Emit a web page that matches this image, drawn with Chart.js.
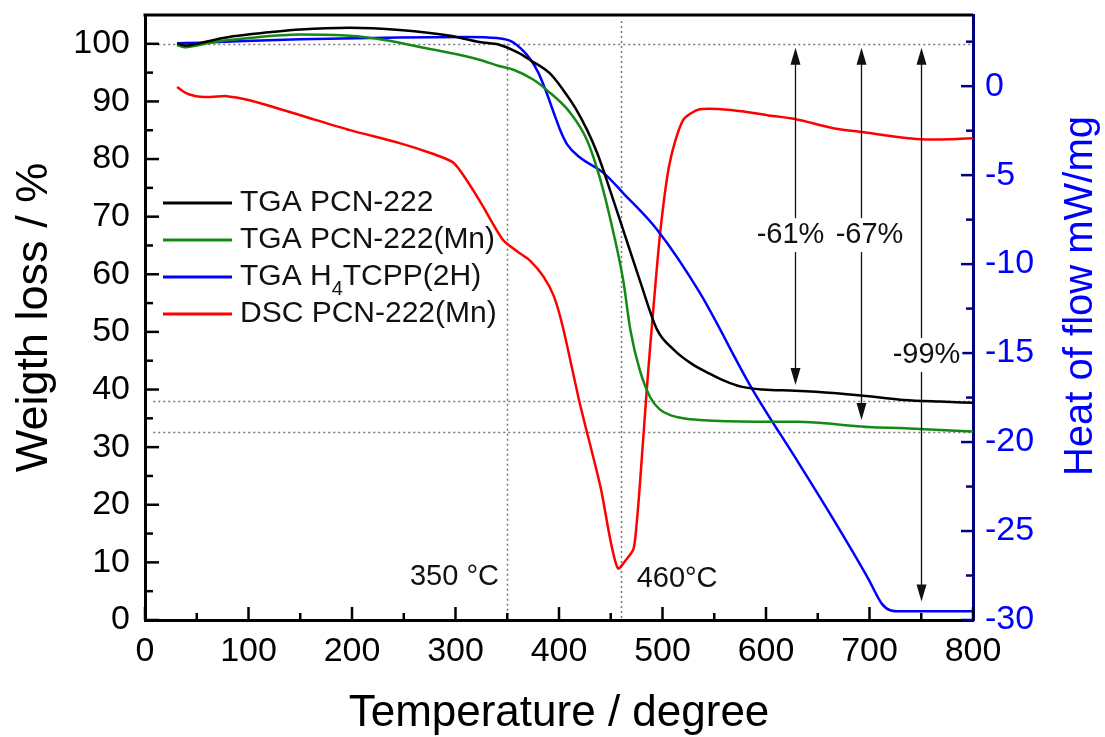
<!DOCTYPE html>
<html>
<head>
<meta charset="utf-8">
<title>TGA / DSC</title>
<script src="https://cdn.jsdelivr.net/npm/chart.js@4/dist/chart.umd.min.js"></script>
<style>
  html, body { margin: 0; padding: 0; background: #fff; }
  #wrap { width: 1105px; height: 737px; }
</style>
</head>
<body>
<div id="wrap"><canvas id="tgaChart" width="1105" height="737"></canvas></div>
<script>
// TGA curves (weight %, left axis) and DSC curve (mW/mg, right axis)
const pcnTemp = [31, 38, 45, 60, 85, 120, 150, 198, 246, 295, 323, 343, 360, 372, 391, 404, 416, 427, 437, 446, 462, 478, 495, 511, 528, 545, 560, 576, 597, 628, 665, 706, 733, 768, 800];
const pcnWeight = [100.1, 99.7, 99.8, 100.4, 101.3, 102.0, 102.5, 102.8, 102.4, 101.4, 100.3, 99.8, 98.5, 97.2, 94.9, 92.0, 88.8, 85.1, 81.0, 76.4, 67.7, 59.0, 50.3, 46.9, 44.5, 42.8, 41.5, 40.5, 40.0, 39.8, 39.4, 38.7, 38.2, 37.9, 37.7];

const mnTemp = [31, 36, 40, 50, 63, 101, 150, 198, 230, 278, 311, 324, 343, 356, 375, 388, 411, 427, 440, 452, 462, 469, 478, 488, 497, 507, 520, 536, 590, 631, 672, 699, 734, 800];
const mnWeight = [99.8, 99.5, 99.4, 99.7, 100.2, 101.0, 101.6, 101.4, 100.7, 99.0, 97.8, 97.2, 96.1, 95.5, 93.8, 92.0, 88.0, 83.3, 76.4, 67.7, 59.0, 50.3, 43.4, 38.7, 36.6, 35.6, 35.0, 34.7, 34.4, 34.4, 33.9, 33.5, 33.3, 32.7];

const ligandTemp = [31, 53, 150, 246, 311, 340, 353, 363, 372, 380, 388, 395, 401, 408, 420, 443, 462, 495, 536, 586, 631, 665, 699, 712, 720, 730, 800];
const ligandWeight = [100.1, 100.2, 100.8, 101.1, 101.2, 101.0, 100.5, 99.2, 97.4, 95.0, 91.5, 88.0, 85.1, 82.5, 80.3, 77.6, 74.1, 67.7, 56.8, 40.3, 27.4, 17.5, 7.1, 2.8, 1.7, 1.5, 1.5];

const dscTemp = [31, 37, 43, 53, 65, 79, 101, 150, 198, 246, 278, 298, 311, 325, 346, 360, 372, 385, 395, 404, 420, 440, 450, 457, 465, 472, 475, 478, 485, 490, 498, 507, 520, 536, 568, 601, 628, 665, 693, 729, 749, 778, 800];
const dscFlow = [-0.05, -0.3, -0.47, -0.6, -0.6, -0.56, -0.79, -1.63, -2.47, -3.2, -3.8, -4.3, -5.3, -6.6, -8.65, -9.3, -9.8, -10.7, -11.8, -13.6, -17.8, -22.5, -25.6, -27.1, -26.6, -26.0, -24.6, -22.5, -16.9, -13.3, -8.1, -4.3, -1.9, -1.3, -1.35, -1.63, -1.85, -2.36, -2.58, -2.87, -2.98, -2.98, -2.92];

const tempTicks = [0, 100, 200, 300, 400, 500, 600, 700, 800];
const weightTicks = [0, 10, 20, 30, 40, 50, 60, 70, 80, 90, 100];
const flowTicks = [0, -5, -10, -15, -20, -25, -30];

// dotted guides and weight-loss arrows
const guideWeights = [100, 38.0, 32.6];
const guideTemps = [350, 460];
const lossTemps = [628, 692, 750];
const lossEnds = [40.8, 34.7, 3.2];
const lossLabels = ['-61%', '-67%', '-99%'];

const FONT = 'Arial, "Liberation Sans", sans-serif';

function pairs(xs, ys) {
  return xs.map((x, i) => ({ x: x, y: ys[i] }));
}

// label text with unicode subscript digits drawn as small lowered numbers
function richText(ctx, text, x, y, size) {
  let cx = x;
  text.split(/([\u2080-\u2089]+)/).forEach(part => {
    if (!part) return;
    if (/[\u2080-\u2089]/.test(part)) {
      const digits = part.replace(/[\u2080-\u2089]/g, c => String.fromCharCode(c.charCodeAt(0) - 0x2080 + 48));
      ctx.font = Math.round(size * 0.65) + 'px ' + FONT;
      ctx.fillText(digits, cx, y + size * 0.4);
      cx += ctx.measureText(digits).width;
    } else {
      ctx.font = size + 'px ' + FONT;
      ctx.fillText(part, cx, y);
      cx += ctx.measureText(part).width;
    }
  });
}

function arrowHead(ctx, x, y, dir) {
  ctx.beginPath();
  ctx.moveTo(x, y);
  ctx.lineTo(x - 5, y + dir * 17);
  ctx.lineTo(x + 5, y + dir * 17);
  ctx.closePath();
  ctx.fill();
}

const guides = {
  id: 'guides',
  beforeDatasetsDraw(chart) {
    const { ctx, chartArea, scales } = chart;
    const x = scales.x, y = scales.y;
    ctx.save();
    ctx.strokeStyle = '#777';
    ctx.lineWidth = 1.5;
    ctx.setLineDash([2, 3]);
    guideWeights.forEach(w => {
      const py = Math.round(y.getPixelForValue(w)) + 0.5;
      ctx.beginPath();
      ctx.moveTo(x.getPixelForValue(8), py);
      ctx.lineTo(chartArea.right, py);
      ctx.stroke();
    });
    guideTemps.forEach((t, i) => {
      const px = Math.round(x.getPixelForValue(t)) + 0.5;
      ctx.beginPath();
      ctx.moveTo(px, i === 0 ? y.getPixelForValue(100) : chartArea.top + 6);
      ctx.lineTo(px, chartArea.bottom);
      ctx.stroke();
    });
    ctx.restore();
  },
  afterDraw(chart) {
    const { ctx, chartArea, scales } = chart;
    const x = scales.x, y = scales.y, y2 = scales.y2;
    ctx.save();

    // frame top
    ctx.strokeStyle = '#000';
    ctx.lineWidth = 3;
    ctx.beginPath();
    ctx.moveTo(chartArea.left - 1.5, chartArea.top);
    ctx.lineTo(chartArea.right, chartArea.top);
    ctx.stroke();

    // inward tick marks, major and minor
    ctx.lineWidth = 2.5;
    for (let t = 0; t <= 800; t += 50) {
      const px = x.getPixelForValue(t);
      ctx.beginPath();
      ctx.moveTo(px, chartArea.bottom);
      ctx.lineTo(px, chartArea.bottom - (t % 100 === 0 ? 13 : 7));
      ctx.stroke();
    }
    for (let w = 0; w <= 100; w += 5) {
      const py = y.getPixelForValue(w);
      ctx.beginPath();
      ctx.moveTo(chartArea.left, py);
      ctx.lineTo(chartArea.left + (w % 10 === 0 ? 14 : 8), py);
      ctx.stroke();
    }
    ctx.strokeStyle = '#000080';
    for (let f = 2.5; f >= -30; f -= 2.5) {
      const py = y2.getPixelForValue(f);
      ctx.beginPath();
      ctx.moveTo(chartArea.right, py);
      ctx.lineTo(chartArea.right - (f % 5 === 0 ? 12 : 7), py);
      ctx.stroke();
    }

    // weight-loss arrows with their labels
    const labelShift = [-5, 8, 5];
    const labelAt = [66.8, 66.8, 46];
    ctx.strokeStyle = '#111';
    ctx.fillStyle = '#111';
    ctx.lineWidth = 1.3;
    ctx.font = '29px ' + FONT;
    ctx.textAlign = 'center';
    ctx.textBaseline = 'middle';
    lossTemps.forEach((t, i) => {
      const px = Math.round(x.getPixelForValue(t)) + 0.5;
      const top = y.getPixelForValue(99.3);
      const bot = y.getPixelForValue(lossEnds[i]);
      ctx.beginPath();
      ctx.moveTo(px, top + 10);
      ctx.lineTo(px, bot - 10);
      ctx.stroke();
      arrowHead(ctx, px, top, 1);
      arrowHead(ctx, px, bot, -1);
      const lx = px + labelShift[i];
      const ly = y.getPixelForValue(labelAt[i]);
      const w = ctx.measureText(lossLabels[i]).width;
      ctx.fillStyle = '#fff';
      ctx.fillRect(lx - w / 2 - 2, ly - 17, w + 4, 34);
      ctx.fillStyle = '#111';
      ctx.fillText(lossLabels[i], lx, ly);
    });

    // temperature markers
    ctx.fillStyle = '#111';
    ctx.textBaseline = 'alphabetic';
    ctx.textAlign = 'right';
    ctx.fillText('350 \u00B0C', x.getPixelForValue(342), 585);
    ctx.textAlign = 'left';
    ctx.fillText('460\u00B0C', x.getPixelForValue(475), 587);

    // legend
    ctx.textBaseline = 'middle';
    chart.data.datasets.forEach((ds, i) => {
      const ly = 203 + 37 * i;
      ctx.strokeStyle = ds.borderColor;
      ctx.lineWidth = 3;
      ctx.beginPath();
      ctx.moveTo(163, ly);
      ctx.lineTo(232, ly);
      ctx.stroke();
      ctx.fillStyle = '#111';
      richText(ctx, ds.label, 240, ly, 30);
    });

    // right axis title, reading upward
    ctx.translate(1092, 296);
    ctx.rotate(-Math.PI / 2);
    ctx.fillStyle = '#0000ff';
    ctx.font = '40px ' + FONT;
    ctx.textAlign = 'center';
    ctx.textBaseline = 'alphabetic';
    ctx.fillText('Heat of flow mW/mg', 0, 0);
    ctx.restore();
  }
};

const lineStyle = {
  borderWidth: 2.5,
  pointRadius: 0,
  fill: false,
  cubicInterpolationMode: 'monotone'
};

new Chart(document.getElementById('tgaChart').getContext('2d'), {
  type: 'line',
  data: {
    datasets: [
      Object.assign({ label: 'TGA PCN-222', data: pairs(pcnTemp, pcnWeight), borderColor: '#000000', yAxisID: 'y' }, lineStyle),
      Object.assign({ label: 'TGA PCN-222(Mn)', data: pairs(mnTemp, mnWeight), borderColor: '#138a13', yAxisID: 'y' }, lineStyle),
      Object.assign({ label: 'TGA H\u2084TCPP(2H)', data: pairs(ligandTemp, ligandWeight), borderColor: '#0000ff', yAxisID: 'y' }, lineStyle),
      // the DSC peak is a sharp V, so a plain spline instead of monotone
      Object.assign({}, lineStyle, { label: 'DSC PCN-222(Mn)', data: pairs(dscTemp, dscFlow), borderColor: '#ff0000', yAxisID: 'y2', cubicInterpolationMode: 'default', tension: 0.25 })
    ]
  },
  options: {
    responsive: false,
    animation: false,
    devicePixelRatio: 1,
    layout: { padding: { top: 15, left: 0, right: 0, bottom: 0 } },
    plugins: {
      legend: { display: false },
      tooltip: { enabled: false }
    },
    scales: {
      x: {
        type: 'linear',
        position: 'bottom',
        min: 0,
        max: 800,
        afterBuildTicks: s => { s.ticks = tempTicks.map(v => ({ value: v })); },
        ticks: { font: { size: 34, family: FONT }, color: '#000', padding: 11, maxRotation: 0, autoSkip: false },
        grid: { display: false, drawTicks: false },
        border: { display: true, color: '#000', width: 3 },
        title: {
          display: true,
          text: 'Temperature / degree',
          color: '#000',
          font: { size: 44, family: FONT, lineHeight: 1 },
          padding: { top: 0, bottom: 1 }
        },
        afterFit: s => { s.height = 117; s.paddingLeft = 0; s.paddingRight = 0; }
      },
      y: {
        type: 'linear',
        position: 'left',
        min: 0,
        max: 105,
        afterBuildTicks: s => { s.ticks = weightTicks.map(v => ({ value: v })); },
        ticks: { font: { size: 34, family: FONT }, color: '#000', padding: 15 },
        grid: { display: false, drawTicks: false },
        border: { display: true, color: '#000', width: 3 },
        title: {
          display: true,
          text: 'Weigth loss / %',
          color: '#000',
          font: { size: 45, family: FONT, lineHeight: 1 },
          padding: { top: 12, bottom: 0 }
        },
        afterFit: s => { s.width = 145; s.paddingTop = 0; s.paddingBottom = 0; }
      },
      y2: {
        type: 'linear',
        position: 'right',
        min: -30,
        max: 4,
        afterBuildTicks: s => { s.ticks = flowTicks.map(v => ({ value: v })); },
        ticks: { font: { size: 34, family: FONT }, color: '#0000ff', padding: 12 },
        grid: { display: false, drawTicks: false },
        border: { display: true, color: '#000080', width: 3 },
        afterFit: s => { s.width = 132; s.paddingTop = 0; s.paddingBottom = 0; }
      }
    }
  },
  plugins: [guides]
});
</script>
</body>
</html>
